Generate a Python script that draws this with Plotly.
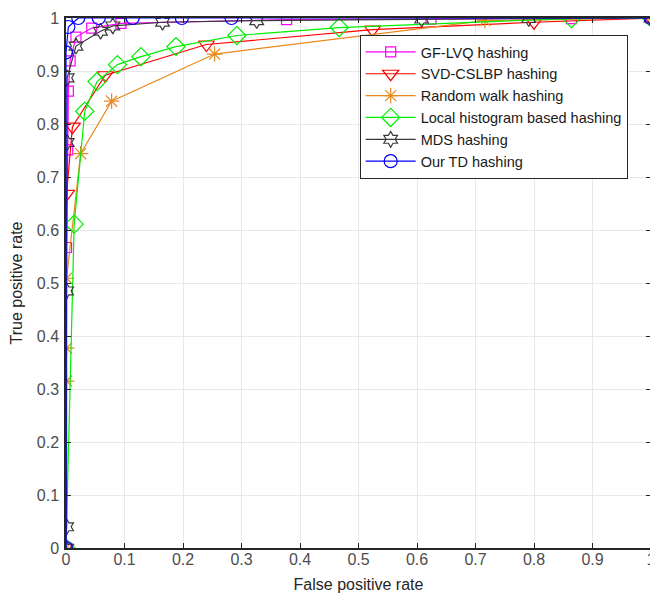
import plotly.graph_objects as go

# ---- data ----
gf_x = [0, 0.001, 0.003, 0.004, 0.007, 0.017, 0.044, 0.094, 0.377, 0.624, 0.864, 1]
gf_y = [0, 0.567, 0.751, 0.862, 0.919, 0.964, 0.981, 0.990, 0.997, 0.998, 0.999, 1]

svd_x = [0, 0.001, 0.011, 0.067, 0.240, 0.524, 0.800, 1]
svd_y = [0, 0.668, 0.795, 0.892, 0.950, 0.978, 0.992, 1]

rw_x = [0, 0.001, 0.001, 0.001, 0.025, 0.078, 0.254, 0.716, 1]
rw_y = [0, 0.315, 0.377, 0.509, 0.744, 0.843, 0.932, 0.995, 1]

lh_x = [0, 0.014, 0.032, 0.053, 0.088, 0.128, 0.188, 0.292, 0.467, 0.864, 1]
lh_y = [0, 0.611, 0.824, 0.880, 0.912, 0.927, 0.946, 0.967, 0.982, 0.999, 1]

mds_x = [0, 0.001, 0.001, 0.002, 0.002, 0.017, 0.059, 0.080, 0.165, 0.326, 0.608, 0.791, 1]
mds_y = [0, 0.040, 0.485, 0.765, 0.887, 0.947, 0.975, 0.985, 0.992, 0.995, 0.998, 0.999, 1]

td_x = [0, 0, 0.004, 0.021, 0.056, 0.114, 0.198, 0.283, 1]
td_y = [0, 0.935, 0.983, 1, 1, 1, 1, 1, 1]

names = ["GF-LVQ hashing", "SVD-CSLBP hashing", "Random walk hashing",
         "Local histogram based hashing", "MDS hashing", "Our TD hashing"]
ticks = [0, 0.1, 0.2, 0.3, 0.4, 0.5, 0.6, 0.7, 0.8, 0.9, 1]
tick_labels = ["0", "0.1", "0.2", "0.3", "0.4", "0.5", "0.6", "0.7", "0.8", "0.9", "1"]

series = [
    (gf_x, gf_y, "#FF00FF", "square-open", 10),
    (svd_x, svd_y, "#FF0000", "triangle-down-open", 14),
    (rw_x, rw_y, "#E8891E", "asterisk-open", 13),
    (lh_x, lh_y, "#00EE00", "diamond-open", 14),
    (mds_x, mds_y, "#3a3a3a", "hexagram-open", 12),
    (td_x, td_y, "#0000FF", "circle-open", 13),
]

fig = go.Figure()
for (xs, ys, col, sym, sz), nm in zip(series, names):
    fig.add_trace(go.Scatter(
        x=xs, y=ys, mode="lines+markers", name=nm,
        line=dict(color=col, width=1.2),
        marker=dict(symbol=sym, size=sz, color=col, line=dict(color=col, width=1.2)),
    ))

axis_common = dict(
    range=[0, 1], tickvals=ticks, ticktext=tick_labels,
    showgrid=True, gridcolor="#e8e8e8", gridwidth=1,
    showline=True, linecolor="#262626", linewidth=1.5, mirror="ticks",
    ticks="inside", ticklen=5, tickcolor="#262626",
    zeroline=False, ticklabeloverflow="allow",
    tickfont=dict(family="Arial, Liberation Sans", size=16, color="#4d4d4d"),
)

# page body has an 8px margin, so the figure is sized to fill the rest
fig.update_layout(
    width=650, height=590,
    margin=dict(l=58, r=2, t=7, b=50),
    paper_bgcolor="white", plot_bgcolor="white",
    xaxis=dict(**axis_common, ticklabelstandoff=-4,
               title=dict(text="False positive rate", standoff=12,
                          font=dict(family="Arial, Liberation Sans", size=16, color="#262626"))),
    yaxis=dict(**axis_common, ticklabelstandoff=2,
               title=dict(text="True positive rate", standoff=10,
                          font=dict(family="Arial, Liberation Sans", size=16, color="#262626"))),
    legend=dict(x=0.502, y=0.968, xanchor="left", yanchor="top",
                bgcolor="white", bordercolor="#262626", borderwidth=1,
                font=dict(family="Arial, Liberation Sans", size=14.5, color="#1a1a1a"),
                itemwidth=50, tracegroupgap=0),
    showlegend=True,
)

fig.write_html("out.html")
